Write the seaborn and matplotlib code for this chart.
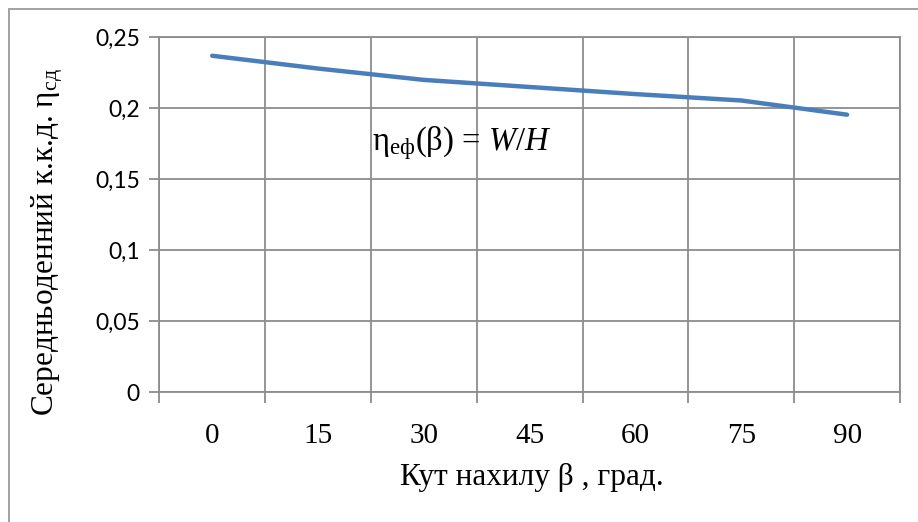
import numpy as np
import pandas as pd
import matplotlib
matplotlib.use("Agg")
import matplotlib.pyplot as plt
import seaborn as sns
from matplotlib.ticker import FixedLocator, FuncFormatter
from matplotlib.patches import Rectangle

# Tilt angles (degrees) and mean daily efficiency
angles = ["0", "15", "30", "45", "60", "75", "90"]
efficiency = [0.237, 0.228, 0.220, 0.215, 0.210, 0.2055, 0.1955]
y_ticks = [0, 0.05, 0.10, 0.15, 0.20, 0.25]

sns.set_theme(style="white")
plt.rcParams["font.family"] = ["Liberation Serif", "DejaVu Serif"]
plt.rcParams["mathtext.fontset"] = "custom"
plt.rcParams["mathtext.rm"] = "Liberation Serif"
plt.rcParams["mathtext.it"] = "Liberation Serif:italic"

GRID = "#8c8c8c"
LINE = "#4a7ebb"

fig = plt.figure(figsize=(9.18, 5.22), dpi=100)
fig.patch.set_facecolor("white")

# outer chart frame (left and top edges visible)
fig.add_artist(Rectangle((9 / 918, -0.5), 2.0, 1.5 - 9 / 522, transform=fig.transFigure,
                         fill=False, edgecolor="#9a9a9a", linewidth=1.3))

ax = fig.add_axes([159.3 / 918, 1 - 392.3 / 522, (900 - 159.3) / 918, (392.3 - 37.3) / 522])

df = pd.DataFrame({"pos": np.arange(len(angles)), "eff": efficiency})
sns.lineplot(data=df, x="pos", y="eff", ax=ax, color=LINE, linewidth=3.2,
             solid_capstyle="round", solid_joinstyle="round", zorder=3)

n = len(angles)
ax.set_xlim(-0.5, n - 0.5)
ax.set_ylim(y_ticks[0], y_ticks[-1])

ax.set_xticks(np.arange(n))
ax.set_xticklabels(angles)
ax.xaxis.set_minor_locator(FixedLocator(np.arange(n + 1) - 0.5))
ax.tick_params(axis="x", which="major", length=0, pad=22, labelsize=21, labelcolor="black")
ax.tick_params(axis="x", which="minor", length=8, width=1.3, color=GRID, direction="out", bottom=True)

ax.set_yticks(y_ticks)
ax.yaxis.set_major_formatter(FuncFormatter(lambda v, p: f"{v:g}".replace(".", ",")))
ax.tick_params(axis="y", which="major", length=7, width=1.3, color=GRID, direction="out",
               pad=7, labelsize=16.5, labelcolor="black", left=True)
for lbl in ax.get_yticklabels():
    lbl.set_fontfamily(["Lato", "DejaVu Sans"])

ax.grid(False)
ax.grid(which="minor", axis="x", color=GRID, linewidth=1.3)
ax.grid(which="major", axis="y", color=GRID, linewidth=1.3)
for s in ax.spines.values():
    s.set_color(GRID)
    s.set_linewidth(1.3)

ax.set_xlabel("")
ax.set_ylabel("")

fig.text(532 / 918, 1 - 478 / 522, "Кут нахилу β , град.", ha="center", va="center",
         fontsize=22.5, color="black")
fig.text(48 / 918, 1 - 242 / 522, "Середньоденний к.к.д. $\\mathrm{\\eta_{сд}}$",
         rotation=90, ha="center", va="center", fontsize=22.5, color="black")

ax.text(2.36, 0.1756, "$\\mathrm{\\eta_{еф}(\\beta)}$ = $\\mathit{W/H}$", ha="center", va="center",
        fontsize=23.5, color="black", zorder=4)

fig.savefig("out.png", dpi=100, facecolor="white")
